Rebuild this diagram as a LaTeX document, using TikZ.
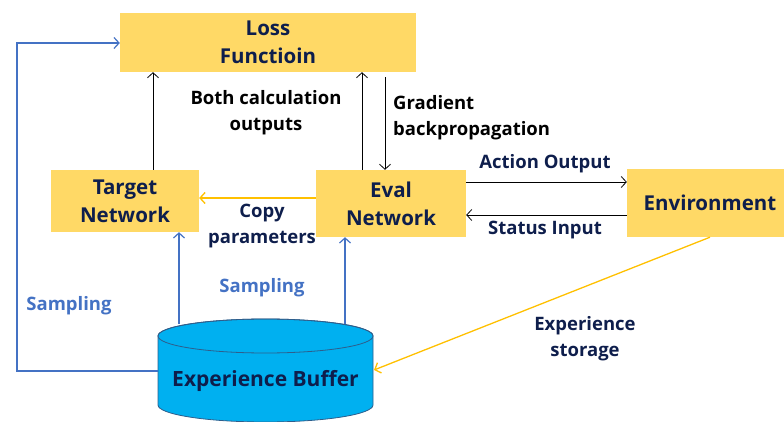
\documentclass[tikz,border=0pt]{standalone}
\usepackage{fontspec}
\setmainfont{Open Sans}
\usetikzlibrary{arrows.meta}
\definecolor{boxfill}{HTML}{FFD966}
\definecolor{navy}{HTML}{0E1E4C}
\definecolor{sampleblue}{HTML}{4472C4}
\definecolor{copyyellow}{HTML}{FFC000}
\definecolor{bufferfill}{HTML}{00B0F0}
\definecolor{bufferedge}{HTML}{2E5E8C}
\tikzset{
  box/.style={fill=boxfill, draw=none, inner sep=0pt, font=\fontsize{20.5}{28}\selectfont\bfseries, text=navy, align=center},
  lbl/.style={font=\fontsize{18.5}{26}\selectfont\bfseries, align=center, inner sep=0pt},
  tip/.style={-{Straight Barb[length=5pt,width=11pt]}},
  blackarrow/.style={tip, draw=black, line width=0.8pt},
  bluearrow/.style={tip, draw=sampleblue, line width=1.2pt},
  yellowarrow/.style={tip, draw=copyyellow, line width=1.3pt},
}
\begin{document}
\begin{tikzpicture}[x=1pt, y=-1pt]
\useasboundingbox (0,0) rectangle (784,422);

% boxes
\node[box, minimum width=296pt, minimum height=59pt] (loss) at (268,42.5) {Loss\\Functioin};
\node[box, minimum width=148pt, minimum height=62pt] (target) at (125,201) {Target\\Network};
\node[box, minimum width=150pt, minimum height=67pt] (eval) at (391,203.5) {Eval\\Network};
\node[box, minimum width=166pt, minimum height=68pt] (env) at (710,203) {Environment};

% experience buffer cylinder (y axis points down, so angles run clockwise on screen)
\coordinate (cylTop) at (265.5,336);
\filldraw[fill=bufferfill, draw=bufferedge, line width=0.8pt]
  (158,336) -- (158,405) arc[start angle=180, end angle=0, x radius=107.5, y radius=17]
  -- (373,336) arc[start angle=0, end angle=-180, x radius=107.5, y radius=17] -- cycle;
\draw[bufferedge, line width=0.8pt] (cylTop) ellipse[x radius=107.5, y radius=17];
\node[font=\fontsize{21}{24}\selectfont\bfseries, text=navy, inner sep=0pt] (buffer) at (265.5,381) {Experience Buffer};
\coordinate (bufLeft) at (158,371);
\coordinate (bufRight) at (374,370);
\coordinate (bufA) at (179,324);
\coordinate (bufB) at (345,324);

% network to loss
\draw[blackarrow] (target.north -| 153,0) -- (loss.south -| 153,0);
\draw[blackarrow] (eval.north -| 362,0) -- (loss.south -| 362,0);
\draw[blackarrow] ([yshift=-5pt]loss.south -| 385,0) -- (eval.north -| 385,0);

% eval <-> environment
\draw[blackarrow] (eval.east |- 0,182) -- (env.west |- 0,182);
\draw[blackarrow] (env.west |- 0,215) -- (eval.east |- 0,215);

% copy parameters
\draw[yellowarrow] (eval.west |- 0,198) -- (target.east |- 0,198);

% experience storage
\draw[yellowarrow] (env.south -| 710,0) -- (bufRight);

% sampling
\draw[bluearrow] (bufA) -- (target.south -| bufA);
\draw[bluearrow] (bufB) -- (eval.south -| bufB);
\draw[sampleblue, line width=1.2pt, tip] (bufLeft) -| (17,43) -- (loss.west |- 0,43);

% labels
\node[lbl, text=black] (lblBoth) at (266,113) {Both calculation\\outputs};
\node[lbl, text=black, align=left, anchor=west] (lblGrad) at (393,118) {Gradient\\backpropagation};
\node[lbl, text=navy] (lblAct) at (545,164) {Action Output};
\node[lbl, text=navy] (lblStat) at (545,230) {Status Input};
\node[lbl, text=navy] (lblCopy) at (262,226) {Copy\\parameters};
\node[lbl, text=sampleblue] (lblSamp) at (262,288) {Sampling};
\node[lbl, text=sampleblue] (lblSampL) at (69,306) {Sampling};
\node[lbl, text=navy] (lblStore) at (585,338.5) {Experience\\storage};
\end{tikzpicture}
\end{document}
